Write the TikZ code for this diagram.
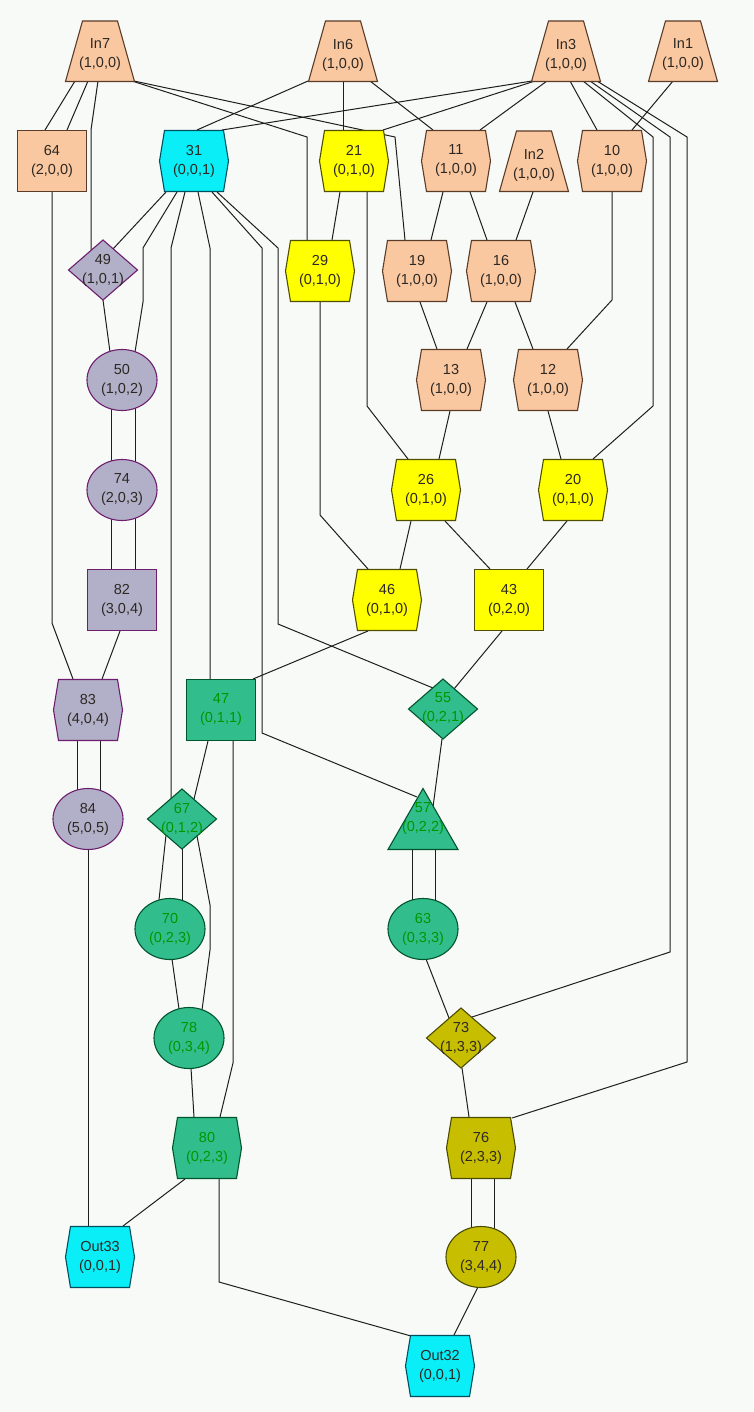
\documentclass[tikz,border=0pt]{standalone}
\usepackage{fontspec}
\setmainfont{Liberation Sans}
\pgfdeclarelayer{wires}
\pgfdeclarelayer{shapes}
\pgfsetlayers{wires,shapes,main}
\definecolor{bgC}{RGB}{248,250,247}
\definecolor{peachF}{RGB}{250,200,160}\definecolor{peachD}{RGB}{90,60,40}
\definecolor{cyanF}{RGB}{10,238,248}\definecolor{cyanD}{RGB}{0,80,95}
\definecolor{yellowF}{RGB}{255,255,0}\definecolor{yellowD}{RGB}{80,80,0}
\definecolor{lavF}{RGB}{178,176,200}\definecolor{lavD}{RGB}{110,30,110}
\definecolor{greenF}{RGB}{50,190,140}\definecolor{greenD}{RGB}{0,85,45}
\definecolor{oliveF}{RGB}{200,190,0}\definecolor{oliveD}{RGB}{75,75,0}
\definecolor{inkC}{RGB}{45,40,35}\definecolor{greenInk}{RGB}{0,150,0}
\definecolor{wireC}{RGB}{30,30,30}
\tikzset{
  lbl/.style={minimum width=69pt,minimum height=61pt,inner sep=0pt,align=center,
    font=\fontsize{14.5}{19}\selectfont,text=inkC},
  nPeach/.style={fill=peachF,draw=peachD,line width=1.1pt},
  nCyan/.style={fill=cyanF,draw=cyanD,line width=1.1pt},
  nYellow/.style={fill=yellowF,draw=yellowD,line width=1.1pt},
  nLav/.style={fill=lavF,draw=lavD,line width=1.1pt},
  nGreen/.style={fill=greenF,draw=greenD,line width=1.1pt},
  nOlive/.style={fill=oliveF,draw=oliveD,line width=1.1pt},
  nPeachlbl/.style={}, nCyanlbl/.style={}, nYellowlbl/.style={}, nLavlbl/.style={},
  nOlivelbl/.style={}, nGreenlbl/.style={text=greenInk},
  wire/.style={draw=wireC,line width=1pt},
}
\newcommand\shphex[2]{\path[#2,shift={(#1.center)}] (-34.5,0) -- (-29.5,-30.5) -- (29.5,-30.5) -- (34.5,0) -- (29.5,30.5) -- (-29.5,30.5) -- cycle;}
\newcommand\shptrap[2]{\path[#2,shift={(#1.center)}] (-17.5,-34) -- (17.5,-34) -- (34.5,26.5) -- (-34.5,26.5) -- cycle;}
\newcommand\shprect[2]{\path[#2,shift={(#1.center)}] (-34.5,-30.5) rectangle (34.5,30.5);}
\newcommand\shpdia[2]{\path[#2,shift={(#1.center)}] (-34.5,0) -- (0,-30) -- (34.5,0) -- (0,30) -- cycle;}
\newcommand\shpell[2]{\path[#2,shift={(#1.center)}] (0,0) ellipse [x radius=35,y radius=30.5];}
\newcommand\shptri[2]{\path[#2,shift={(#1.center)}] (0,-30.5) -- (35,30.5) -- (-35,30.5) -- cycle;}
\newcommand\placenode[6]{%
  \node[lbl,#5lbl] (#2) at (#3,#4) {#6};
  \begin{pgfonlayer}{shapes}\csname shp#1\endcsname{#2}{#5}\end{pgfonlayer}}
\begin{document}
\begin{tikzpicture}[x=1pt,y=-1pt]
\begin{pgfonlayer}{wires}
\fill[bgC] (0,0) rectangle (753,1412);
\end{pgfonlayer}
\useasboundingbox (0,0) rectangle (753,1412);
\placenode{trap}{In7}{100}{55}{nPeach}{In7\\(1,0,0)}
\placenode{trap}{In6}{343}{55}{nPeach}{In6\\(1,0,0)}
\placenode{trap}{In3}{566}{55}{nPeach}{In3\\(1,0,0)}
\placenode{trap}{In1}{683}{55}{nPeach}{In1\\(1,0,0)}
\placenode{rect}{n64}{52}{161}{nPeach}{64\\(2,0,0)}
\placenode{hex}{n31}{194}{161}{nCyan}{31\\(0,0,1)}
\placenode{hex}{n21}{354}{161}{nYellow}{21\\(0,1,0)}
\placenode{hex}{n11}{456}{161}{nPeach}{11\\(1,0,0)}
\placenode{trap}{In2}{534}{165}{nPeach}{In2\\(1,0,0)}
\placenode{hex}{n10}{612}{161}{nPeach}{10\\(1,0,0)}
\placenode{dia}{n49}{103}{270}{nLav}{49\\(1,0,1)}
\placenode{hex}{n29}{320}{271}{nYellow}{29\\(0,1,0)}
\placenode{hex}{n19}{417}{271}{nPeach}{19\\(1,0,0)}
\placenode{hex}{n16}{501}{271}{nPeach}{16\\(1,0,0)}
\placenode{ell}{n50}{122}{380}{nLav}{50\\(1,0,2)}
\placenode{hex}{n13}{451}{380}{nPeach}{13\\(1,0,0)}
\placenode{hex}{n12}{548}{380}{nPeach}{12\\(1,0,0)}
\placenode{ell}{n74}{122}{490}{nLav}{74\\(2,0,3)}
\placenode{hex}{n26}{426}{490}{nYellow}{26\\(0,1,0)}
\placenode{hex}{n20}{573}{490}{nYellow}{20\\(0,1,0)}
\placenode{rect}{n82}{122}{600}{nLav}{82\\(3,0,4)}
\placenode{hex}{n46}{387}{600}{nYellow}{46\\(0,1,0)}
\placenode{rect}{n43}{509}{600}{nYellow}{43\\(0,2,0)}
\placenode{hex}{n83}{88}{710}{nLav}{83\\(4,0,4)}
\placenode{rect}{n47}{221}{710}{nGreen}{47\\(0,1,1)}
\placenode{dia}{n55}{443}{709}{nGreen}{55\\(0,2,1)}
\placenode{ell}{n84}{88}{819}{nLav}{84\\(5,0,5)}
\placenode{dia}{n67}{182}{819}{nGreen}{67\\(0,1,2)}
\placenode{tri}{n57}{423}{819}{nGreen}{57\\(0,2,2)}
\placenode{ell}{n70}{170}{929}{nGreen}{70\\(0,2,3)}
\placenode{ell}{n63}{423}{929}{nGreen}{63\\(0,3,3)}
\placenode{ell}{n78}{189}{1038}{nGreen}{78\\(0,3,4)}
\placenode{dia}{n73}{461}{1038}{nOlive}{73\\(1,3,3)}
\placenode{hex}{n80}{207}{1148}{nGreen}{80\\(0,2,3)}
\placenode{hex}{n76}{481}{1148}{nOlive}{76\\(2,3,3)}
\placenode{hex}{Out33}{100}{1257}{nCyan}{Out33\\(0,0,1)}
\placenode{ell}{n77}{481}{1257}{nOlive}{77\\(3,4,4)}
\placenode{hex}{Out32}{440}{1366}{nCyan}{Out32\\(0,0,1)}
\begin{pgfonlayer}{wires}
\draw[wire] ([shift={(-25,26)}]In7.center) -- ([shift={(-7,-31)}]n64.center);
\draw[wire] ([shift={(-12,26)}]In7.center) -- ([shift={(15,-31)}]n64.center);
\draw[wire] ([shift={(-2,26)}]In7.center) -- (91,130) -- ([shift={(-12,-20)}]n49.center);
\draw[wire] ([shift={(32,26)}]In7.center) -- (307,137) -- ([shift={(-13,-31)}]n29.center);
\draw[wire] ([shift={(34,26)}]In7.center) -- (395,137) -- ([shift={(-12,-31)}]n19.center);
\draw[wire] ([shift={(-35,26)}]In6.center) -- ([shift={(3,-31)}]n31.center);
\draw[wire] ([shift={(0,26)}]In6.center) -- ([shift={(-11,-31)}]n21.center);
\draw[wire] ([shift={(27,26)}]In6.center) -- ([shift={(-23,-31)}]n11.center);
\draw[wire] ([shift={(-34,26)}]In3.center) -- ([shift={(28,-31)}]n31.center);
\draw[wire] ([shift={(-31,26)}]In3.center) -- ([shift={(29,-31)}]n21.center);
\draw[wire] ([shift={(-19,26)}]In3.center) -- ([shift={(24,-31)}]n11.center);
\draw[wire] ([shift={(4,26)}]In3.center) -- ([shift={(-15,-31)}]n10.center);
\draw[wire] ([shift={(17,26)}]In3.center) -- (653,137) -- (653,406) -- ([shift={(20,-31)}]n20.center);
\draw[wire] ([shift={(24,26)}]In3.center) -- (670,137) -- (670,952) -- ([shift={(11,-21)}]n73.center);
\draw[wire] ([shift={(31,26)}]In3.center) -- (687,137) -- (687,1062) -- ([shift={(31,-30)}]n76.center);
\draw[wire] ([shift={(-10,26)}]In1.center) -- ([shift={(20,-31)}]n10.center);
\draw[wire] ([shift={(-28,31)}]n31.center) -- ([shift={(10,-21)}]n49.center);
\draw[wire] ([shift={(-17,31)}]n31.center) -- (143,248) -- (143,302) -- ([shift={(13,-28)}]n50.center);
\draw[wire] ([shift={(-9,31)}]n31.center) -- (171,248) -- ([shift={(-11,-21)}]n67.center);
\draw[wire] ([shift={(4,31)}]n31.center) -- (210,248) -- ([shift={(-11,-31)}]n47.center);
\draw[wire] ([shift={(18,31)}]n31.center) -- (262,248) -- (262,733) -- ([shift={(-6,-22)}]n57.center);
\draw[wire] ([shift={(23,31)}]n31.center) -- (278,248) -- (278,624) -- ([shift={(-10,-21)}]n55.center);
\draw[wire] ([shift={(0,31)}]n64.center) -- (52,623) -- ([shift={(-15,-31)}]n83.center);
\draw[wire] ([shift={(0,30)}]n49.center) -- ([shift={(-12,-28)}]n50.center);
\draw[wire] ([shift={(-11,29)}]n50.center) -- ([shift={(-11,-29)}]n74.center);
\draw[wire] ([shift={(13,28)}]n50.center) -- ([shift={(13,-28)}]n74.center);
\draw[wire] ([shift={(-11,29)}]n74.center) -- ([shift={(-11,-31)}]n82.center);
\draw[wire] ([shift={(13,28)}]n74.center) -- ([shift={(13,-31)}]n82.center);
\draw[wire] ([shift={(-2,31)}]n82.center) -- ([shift={(14,-31)}]n83.center);
\draw[wire] ([shift={(-11,31)}]n83.center) -- ([shift={(-11,-29)}]n84.center);
\draw[wire] ([shift={(12,31)}]n83.center) -- ([shift={(12,-29)}]n84.center);
\draw[wire] ([shift={(0,30)}]n84.center) -- ([shift={(-12,-31)}]Out33.center);
\draw[wire] ([shift={(-22,31)}]n80.center) -- ([shift={(23,-31)}]Out33.center);
\draw[wire] ([shift={(12,31)}]n80.center) -- (219,1282) -- ([shift={(-29,-30)}]Out32.center);
\draw[wire] ([shift={(-3,30)}]n77.center) -- ([shift={(14,-31)}]Out32.center);
\draw[wire] ([shift={(-10,31)}]n76.center) -- ([shift={(-10,-29)}]n77.center);
\draw[wire] ([shift={(13,31)}]n76.center) -- ([shift={(13,-28)}]n77.center);
\draw[wire] ([shift={(1,30)}]n73.center) -- ([shift={(-12,-31)}]n76.center);
\draw[wire] ([shift={(3,30)}]n63.center) -- ([shift={(-12,-20)}]n73.center);
\draw[wire] ([shift={(-11,31)}]n57.center) -- ([shift={(-11,-29)}]n63.center);
\draw[wire] ([shift={(12,31)}]n57.center) -- ([shift={(12,-29)}]n63.center);
\draw[wire] ([shift={(-1,30)}]n55.center) -- ([shift={(10,-12)}]n57.center);
\draw[wire] ([shift={(-7,31)}]n43.center) -- ([shift={(11,-20)}]n55.center);
\draw[wire] ([shift={(-19,31)}]n46.center) -- ([shift={(32,-31)}]n47.center);
\draw[wire] ([shift={(-13,31)}]n47.center) -- ([shift={(12,-20)}]n67.center);
\draw[wire] ([shift={(12,31)}]n47.center) -- (233,1063) -- ([shift={(13,-31)}]n80.center);
\draw[wire] ([shift={(-16,16)}]n67.center) -- ([shift={(-11,-29)}]n70.center);
\draw[wire] ([shift={(0,30)}]n67.center) -- ([shift={(12,-29)}]n70.center);
\draw[wire] ([shift={(15,17)}]n67.center) -- (210,905) -- (210,950) -- ([shift={(13,-28)}]n78.center);
\draw[wire] ([shift={(2,30)}]n70.center) -- ([shift={(-10,-29)}]n78.center);
\draw[wire] ([shift={(2,30)}]n78.center) -- ([shift={(-13,-31)}]n80.center);
\draw[wire] ([shift={(-15,31)}]n26.center) -- ([shift={(13,-31)}]n46.center);
\draw[wire] ([shift={(19,31)}]n26.center) -- ([shift={(-19,-31)}]n43.center);
\draw[wire] ([shift={(-6,31)}]n20.center) -- ([shift={(18,-31)}]n43.center);
\draw[wire] ([shift={(0,31)}]n29.center) -- (320,515) -- ([shift={(-19,-31)}]n46.center);
\draw[wire] ([shift={(-14,31)}]n21.center) -- ([shift={(12,-31)}]n29.center);
\draw[wire] ([shift={(13,31)}]n21.center) -- (367,406) -- ([shift={(-18,-31)}]n26.center);
\draw[wire] ([shift={(-13,31)}]n11.center) -- ([shift={(14,-31)}]n19.center);
\draw[wire] ([shift={(14,31)}]n11.center) -- ([shift={(-14,-31)}]n16.center);
\draw[wire] ([shift={(-1,27)}]In2.center) -- ([shift={(15,-31)}]n16.center);
\draw[wire] ([shift={(3,31)}]n19.center) -- ([shift={(-14,-31)}]n13.center);
\draw[wire] ([shift={(-14,31)}]n16.center) -- ([shift={(16,-31)}]n13.center);
\draw[wire] ([shift={(14,31)}]n16.center) -- ([shift={(-15,-31)}]n12.center);
\draw[wire] ([shift={(0,31)}]n10.center) -- (612,300) -- ([shift={(19,-31)}]n12.center);
\draw[wire] ([shift={(-1,31)}]n13.center) -- ([shift={(13,-31)}]n26.center);
\draw[wire] ([shift={(0,31)}]n12.center) -- ([shift={(-12,-31)}]n20.center);
\end{pgfonlayer}
\end{tikzpicture}
\end{document}
